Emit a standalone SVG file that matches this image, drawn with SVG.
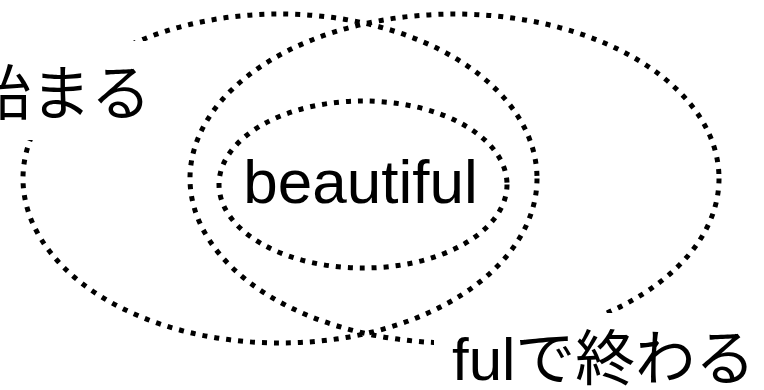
<svg xmlns="http://www.w3.org/2000/svg" width="764" height="390" viewBox="0 0 764 390">
  <style>
    .set { fill: none; stroke: #000; stroke-width: 5; stroke-dasharray: 5 7; }
    .lbl { font-family: "Liberation Sans", "Noto Sans CJK JP", sans-serif; font-size: 62px; fill: #000; }
    .side { font-size: 60px; }
    .bg { fill: #fff; stroke: none; }
  </style>
  <rect x="0" y="0" width="764" height="390" fill="#fff"/>
  <g id="connectors"></g>
  <g id="set-begin">
    <ellipse class="set" cx="280" cy="178.5" rx="257" ry="164.5"/>
  </g>
  <g id="set-end">
    <ellipse class="set" cx="454.5" cy="178.5" rx="264.5" ry="164.5"/>
  </g>
  <g id="set-both">
    <ellipse class="set" cx="363" cy="184.5" rx="144" ry="83.5"/>
    <text class="lbl" x="360.5" y="203" text-anchor="middle">beautiful</text>
  </g>
  <g id="label-begin">
    <rect class="bg" x="-10" y="41" width="160" height="99"/>
    <text class="lbl side" x="151" y="115" text-anchor="end">始まる</text>
  </g>
  <g id="label-end">
    <rect class="bg" x="434" y="313" width="340" height="90"/>
    <text class="lbl side" x="452" y="380">fulで終わる</text>
  </g>
</svg>
